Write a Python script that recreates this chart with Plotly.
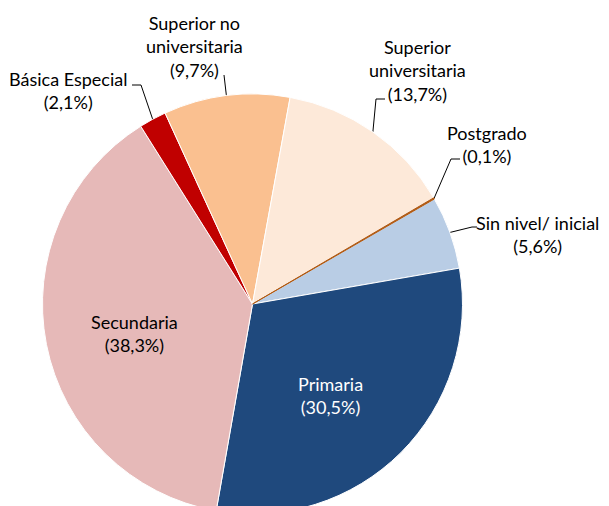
import math
import plotly.graph_objects as go

# data, in the order the slices run clockwise
categories = ["Sin nivel/ inicial", "Primaria", "Secundaria", "Básica Especial",
              "Superior no universitaria", "Superior universitaria", "Postgrado"]
values = [5.6, 30.5, 38.3, 2.1, 9.7, 13.7, 0.1]
label_names = ["Sin nivel/ inicial", "Primaria", "Secundaria", "Básica Especial",
               "Superior no<br>universitaria", "Superior<br>universitaria", "Postgrado"]
colors = ["#B9CDE5", "#1F497D", "#E6B9B8", "#C00000", "#FAC090", "#FDE9D9", "#B05A14"]

# the page puts the figure 8px in from the corner, so work in window pixels
OFF = 8
W, H = 609, 540
CX, CY, R = 252.5, 304, 210
START = 60  # first slice starts 60 deg clockwise from 12 o'clock
FONT = "Lato"
SIZE = 18

# where labels sit (window pixels); inside labels use a radial fraction + nudge
placement = {
    "Sin nivel/ inicial": dict(text=(537, 234), elbow=(472, 227), end=(477, 227)),
    "Primaria": dict(inside=0.575, shift=(-7, -6), color="white"),
    "Secundaria": dict(inside=0.575, shift=(0, -6), color="black"),
    "Básica Especial": dict(text=(68, 90), elbow=(141, 85), end=(132, 85)),
    "Superior no universitaria": dict(text=(194, 46), elbow=(224, 75), end=(224, 75)),
    "Superior universitaria": dict(text=(417, 70), elbow=(376, 99), end=(385, 99)),
    "Postgrado": dict(text=(487, 144), elbow=(451, 159), end=(460, 159)),
}


def pct(v):
    return "(" + f"{v:.1f}".replace(".", ",") + "%)"


fig = go.Figure()

line_colors = ["white"] * len(values)
line_colors[categories.index("Postgrado")] = colors[categories.index("Postgrado")]

fig.add_trace(go.Pie(
    labels=categories,
    values=values,
    sort=False,
    direction="clockwise",
    rotation=START,
    textinfo="none",
    hoverinfo="label+percent",
    marker=dict(colors=colors, line=dict(color=line_colors, width=1)),
    domain=dict(x=[(CX - OFF - R) / W, (CX - OFF + R) / W],
                y=[1 - (CY - OFF + R) / H, 1 - (CY - OFF - R) / H]),
    showlegend=False,
))

# labels and leader lines, placed on a pixel-sized cartesian frame
total = sum(values)
angle = START
annotations = []
for cat, name, v in zip(categories, label_names, values):
    span = 360 * v / total
    mid = math.radians(angle + span / 2)
    angle += span
    p = placement[cat]
    text = name + "<br>" + pct(v)
    if "inside" in p:
        tx = CX + p["inside"] * R * math.sin(mid)
        ty = CY - p["inside"] * R * math.cos(mid)
        annotations.append(dict(x=tx, y=ty, xref="x", yref="y", text=text, showarrow=False,
                                xshift=p["shift"][0], yshift=p["shift"][1],
                                font=dict(family=FONT, size=SIZE, color=p["color"])))
        continue
    ex = CX + R * math.sin(mid)
    ey = CY - R * math.cos(mid)
    fig.add_trace(go.Scatter(
        x=[ex, p["elbow"][0], p["end"][0]], y=[ey, p["elbow"][1], p["end"][1]],
        mode="lines", line=dict(color="black", width=1), hoverinfo="skip", showlegend=False,
    ))
    annotations.append(dict(x=p["text"][0], y=p["text"][1], xref="x", yref="y", text=text,
                            showarrow=False, font=dict(family=FONT, size=SIZE, color="black")))

fig.update_layout(
    width=W,
    height=H,
    margin=dict(l=0, r=0, t=0, b=0),
    paper_bgcolor="white",
    plot_bgcolor="rgba(0,0,0,0)",
    xaxis=dict(range=[OFF, OFF + W], visible=False, fixedrange=True),
    yaxis=dict(range=[OFF + H, OFF], visible=False, fixedrange=True),
    annotations=annotations,
)

fig.write_html("out.html")
